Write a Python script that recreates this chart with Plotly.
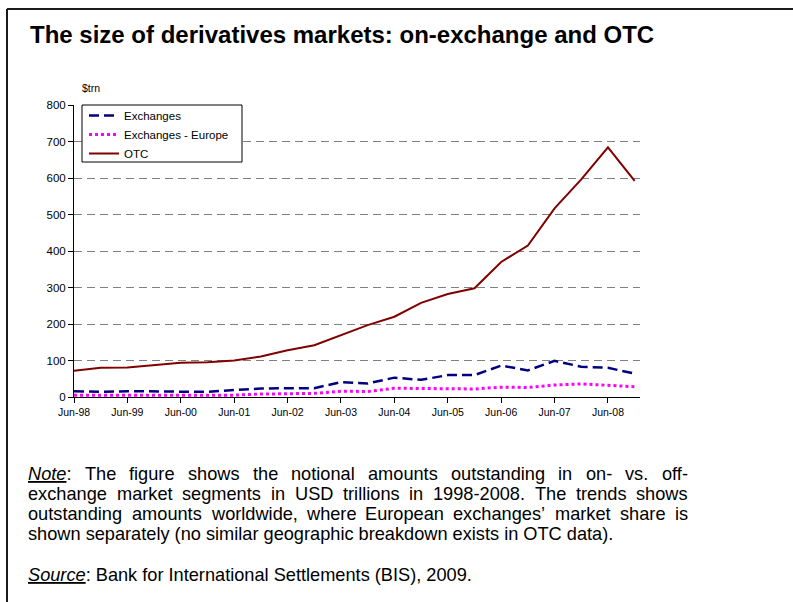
import plotly.graph_objects as go
import re

# ---------------- data ----------------
periods = ["Jun-98", "Dec-98", "Jun-99", "Dec-99", "Jun-00", "Dec-00", "Jun-01", "Dec-01",
           "Jun-02", "Dec-02", "Jun-03", "Dec-03", "Jun-04", "Dec-04", "Jun-05", "Dec-05",
           "Jun-06", "Dec-06", "Jun-07", "Dec-07", "Jun-08", "Dec-08"]
exchanges = [16, 14, 16, 16, 16, 14, 19, 23, 24, 24, 41, 37, 53, 47, 60, 60, 86, 73, 99, 83, 80, 64]
exchanges_europe = [5, 5, 5, 5, 5, 5, 5, 8, 8, 10, 16, 15, 24, 23, 24, 22, 27, 26, 33, 36, 32, 28]
otc = [72, 80, 81, 88, 94, 95, 100, 111, 128, 142, 170, 197, 220, 258, 282, 298, 370, 415, 517, 596, 684, 592]
xtick_labels = ["Jun-98", "Jun-99", "Jun-00", "Jun-01", "Jun-02", "Jun-03",
                "Jun-04", "Jun-05", "Jun-06", "Jun-07", "Jun-08"]
ytick_vals = [0, 100, 200, 300, 400, 500, 600, 700, 800]

title_text = "<b>The size of derivatives markets: on-exchange and OTC</b>"
note_lines = [
    "<i><u>Note</u></i>: The figure shows the notional amounts outstanding in on- vs. off-",
    "exchange market segments in USD trillions in 1998-2008. The trends shows",
    "outstanding amounts worldwide, where European exchanges\u2019 market share is",
    "shown separately (no similar geographic breakdown exists in OTC data).",
]
source_text = "<i><u>Source</u></i>: Bank for International Settlements (BIS), 2009."

FONT = "Arial, Liberation Sans, sans-serif"

# ---------------- layout geometry (pixels) ----------------
W, H = 793, 602
L, R, T, B = 74, 640, 105, 397


def px(x):
    return (x - L) / (R - L)


def py(y):
    return (B - y) / (B - T)


# Arial advance widths (1/1000 em) for text justification
AW = {" ": 278, "!": 278, "(": 333, ")": 333, ",": 278, "-": 333, ".": 278, ":": 278,
      "'": 191, "\u2019": 222}
for c in "0123456789":
    AW[c] = 556
AW.update(dict(zip("ABCDEFGHIJKLMNOPQRSTUVWXYZ",
                   [667, 667, 722, 722, 667, 611, 778, 722, 278, 500, 667, 556, 833, 722, 778,
                    667, 778, 722, 667, 611, 722, 667, 944, 667, 667, 611])))
AW.update(dict(zip("abcdefghijklmnopqrstuvwxyz",
                   [556, 556, 500, 556, 556, 278, 556, 556, 222, 222, 500, 222, 833, 556, 556,
                    556, 556, 333, 500, 278, 556, 500, 722, 500, 500, 500])))


def plain(s):
    return re.sub(r"<[^>]+>", "", s)


def width(s, size):
    return sum(AW.get(c, 556) for c in plain(s)) * size / 1000.0


fig = go.Figure()
fig.add_trace(go.Scatter(x=periods, y=exchanges, mode="lines", name="Exchanges",
                         line=dict(color="#000080", width=2.5, dash="10px,5px")))
fig.add_trace(go.Scatter(x=periods, y=exchanges_europe, mode="lines", name="Exchanges - Europe",
                         line=dict(color="#FF00FF", width=3, dash="3px,3px")))
fig.add_trace(go.Scatter(x=periods, y=otc, mode="lines", name="OTC",
                         line=dict(color="#800000", width=2)))

annotations = []
annotations.append(dict(text=title_text, x=px(28), y=py(35), xref="paper", yref="paper",
                        xanchor="left", yanchor="middle", showarrow=False,
                        font=dict(size=24, color="black", family=FONT)))
annotations.append(dict(text="$trn", x=px(80), y=py(88), xref="paper", yref="paper",
                        xanchor="left", yanchor="middle", showarrow=False,
                        font=dict(size=10.5, color="black", family=FONT)))

NOTE_SIZE = 18.2
left_x, right_x = 26, 686
for i, line in enumerate(note_lines):
    yc = 474 + 20 * i
    if i < len(note_lines) - 1:
        words = line.split(" ")
        wsum = sum(width(w, NOTE_SIZE) for w in words)
        gap = (right_x - left_x - wsum) / (len(words) - 1)
        xpos = left_x
        for w in words:
            annotations.append(dict(text=w, x=px(xpos), y=py(yc), xref="paper", yref="paper",
                                    xanchor="left", yanchor="middle", showarrow=False,
                                    font=dict(size=NOTE_SIZE, color="black", family=FONT)))
            xpos += width(w, NOTE_SIZE) + gap
    else:
        annotations.append(dict(text=line, x=px(left_x), y=py(yc), xref="paper", yref="paper",
                                xanchor="left", yanchor="middle", showarrow=False,
                                font=dict(size=NOTE_SIZE, color="black", family=FONT)))
annotations.append(dict(text=source_text, x=px(left_x), y=py(575), xref="paper", yref="paper",
                        xanchor="left", yanchor="middle", showarrow=False,
                        font=dict(size=NOTE_SIZE, color="black", family=FONT)))

shapes = [
    # page frame
    dict(type="line", xref="paper", yref="paper", x0=px(7), x1=px(800), y0=py(9), y1=py(9),
         line=dict(color="#1a1a1a", width=2)),
    dict(type="line", xref="paper", yref="paper", x0=px(7), x1=px(7), y0=py(9), y1=py(610),
         line=dict(color="#1a1a1a", width=2)),
    # legend box
    dict(type="rect", xref="paper", yref="paper", x0=px(82), x1=px(242), y0=py(105), y1=py(162),
         fillcolor="white", line=dict(color="black", width=1), layer="above"),
]

fig.update_layout(
    width=W, height=H,
    margin=dict(l=L, r=W - R, t=T, b=H - B, pad=0),
    paper_bgcolor="white", plot_bgcolor="white",
    font=dict(family=FONT, color="black"),
    showlegend=True,
    legend=dict(x=px(84), y=py(101), xanchor="left", yanchor="top",
                bgcolor="rgba(0,0,0,0)", borderwidth=0,
                font=dict(size=11.5, color="black", family=FONT),
                tracegroupgap=0, itemwidth=30),
    xaxis=dict(type="category", range=[0, 21.2], tickmode="array",
               tickvals=xtick_labels, ticktext=xtick_labels,
               showline=True, linecolor="black", linewidth=1,
               ticks="outside", ticklen=5, tickcolor="black", tickwidth=1,
               showgrid=False, zeroline=False,
               tickfont=dict(size=10.5, color="black", family=FONT)),
    yaxis=dict(range=[0, 800], tickmode="array", tickvals=ytick_vals,
               showline=True, linecolor="black", linewidth=1,
               ticks="outside", ticklen=5, tickcolor="black", tickwidth=1,
               showgrid=True, gridcolor="#808080", gridwidth=1, griddash="8px,5px",
               zeroline=False,
               tickfont=dict(size=11.5, color="black", family=FONT)),
    annotations=annotations,
    shapes=shapes,
)

fig.write_html("out.html", config={"displayModeBar": False},
               post_script="document.body.style.margin='0';document.body.style.overflow='hidden';")
